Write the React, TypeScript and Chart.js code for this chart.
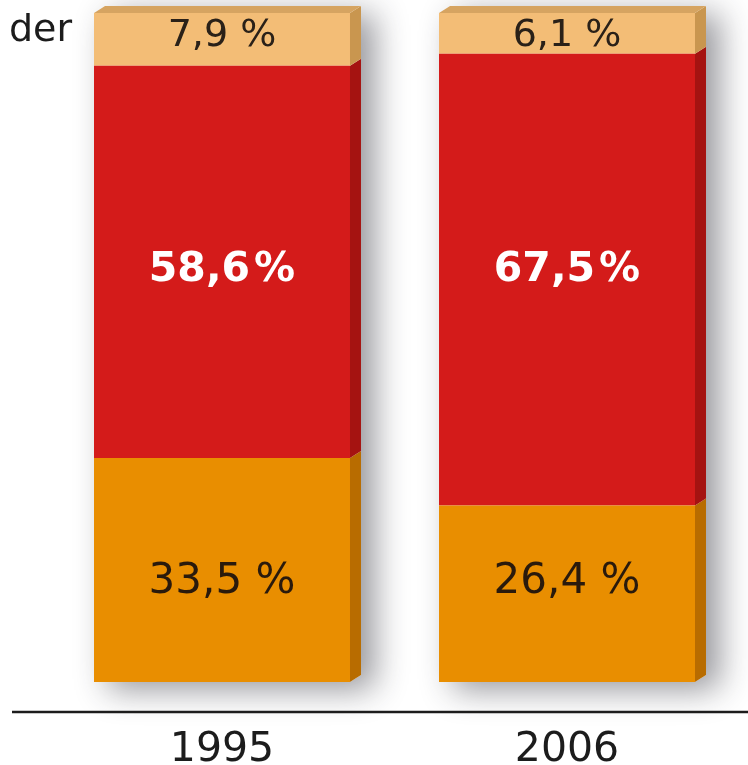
import React, { useEffect, useRef } from "react";
import { Chart, registerables } from "chart.js";

Chart.register(...registerables);

const categories = ["1995", "2006"];
const bottomShare = [33.5, 26.4];
const middleShare = [58.6, 67.5];
const topShare = [7.9, 6.1];
const legendFragment = "der";

const frontColors = ["#E98E00", "#D41B1A", "#F3BD76"];
const sideColors = ["#B86C00", "#A51311", "#C9964F"];
const topFaceColor = "#D6A461";
const labelColors = ["#2A1A0C", "#FFFFFF", "#2A2118"];
const labelFonts = [
  "42px 'DejaVu Sans'",
  "bold 41px 'DejaVu Sans'",
  "38px 'DejaVu Sans'",
];

const fmt = (v: number, idx: number) =>
  v.toFixed(1).replace(".", ",") + (idx === 1 ? "\u200A%" : " %");

const DX = 11;
const DY = 7;

const bars3d = {
  id: "bars3d",
  beforeDatasetsDraw(chart: any) {
    const ctx = chart.ctx;
    const n = chart.data.datasets.length;
    const first = chart.getDatasetMeta(0).data;
    const last = chart.getDatasetMeta(n - 1).data;
    first.forEach((el: any, i: number) => {
      const l = el.x - el.width / 2;
      const r = el.x + el.width / 2;
      const bottom = el.base;
      const top = last[i].y;
      ctx.save();
      ctx.shadowColor = "rgba(40,40,50,0.48)";
      ctx.shadowBlur = 32;
      ctx.shadowOffsetX = 14;
      ctx.shadowOffsetY = 8;
      ctx.fillStyle = "#ffffff";
      ctx.beginPath();
      ctx.moveTo(l, bottom);
      ctx.lineTo(l, top);
      ctx.lineTo(l + DX, top - DY);
      ctx.lineTo(r + DX, top - DY);
      ctx.lineTo(r + DX, bottom - DY);
      ctx.lineTo(r, bottom);
      ctx.closePath();
      ctx.fill();
      ctx.restore();
    });
  },
  afterDatasetsDraw(chart: any) {
    const ctx = chart.ctx;
    const n = chart.data.datasets.length;
    for (let d = 0; d < n; d++) {
      const meta = chart.getDatasetMeta(d);
      meta.data.forEach((el: any) => {
        const l = el.x - el.width / 2;
        const r = el.x + el.width / 2;
        const yTop = Math.min(el.y, el.base);
        const yBot = Math.max(el.y, el.base);
        ctx.save();
        ctx.fillStyle = sideColors[d];
        ctx.beginPath();
        ctx.moveTo(r, yTop);
        ctx.lineTo(r + DX, yTop - DY);
        ctx.lineTo(r + DX, yBot - DY);
        ctx.lineTo(r, yBot);
        ctx.closePath();
        ctx.fill();
        if (d === n - 1) {
          ctx.fillStyle = topFaceColor;
          ctx.beginPath();
          ctx.moveTo(l, yTop);
          ctx.lineTo(l + DX, yTop - DY);
          ctx.lineTo(r + DX, yTop - DY);
          ctx.lineTo(r, yTop);
          ctx.closePath();
          ctx.fill();
        }
        ctx.restore();
      });
    }
    // value labels, aligned in one row per segment
    for (let d = 0; d < n; d++) {
      const meta = chart.getDatasetMeta(d);
      const values = chart.data.datasets[d].data as number[];
      const centers = meta.data.map((el: any) => (el.y + el.base) / 2);
      const rowY = centers.reduce((a: number, b: number) => a + b, 0) / centers.length;
      meta.data.forEach((el: any, i: number) => {
        ctx.save();
        ctx.font = labelFonts[d];
        ctx.fillStyle = labelColors[d];
        ctx.textAlign = "center";
        ctx.textBaseline = "middle";
        ctx.fillText(fmt(values[i], d), el.x, rowY);
        ctx.restore();
      });
    }
  },
  afterDraw(chart: any) {
    const ctx = chart.ctx;
    const area = chart.chartArea;
    ctx.save();
    ctx.strokeStyle = "#1c1c1c";
    ctx.lineWidth = 2.5;
    ctx.beginPath();
    ctx.moveTo(12, area.bottom + 30);
    ctx.lineTo(chart.width, area.bottom + 30);
    ctx.stroke();
    ctx.font = "38px 'DejaVu Sans'";
    ctx.fillStyle = "#1c1c1c";
    ctx.textAlign = "right";
    ctx.textBaseline = "alphabetic";
    ctx.fillText(legendFragment, 72, 41);
    ctx.restore();
  },
};

export default function App() {
  const ref = useRef<HTMLCanvasElement | null>(null);
  useEffect(() => {
    if (!ref.current) return;
    const chart = new Chart(ref.current, {
      type: "bar",
      data: {
        labels: categories,
        datasets: [
          { label: "bottom", data: bottomShare, backgroundColor: frontColors[0] },
          { label: "middle", data: middleShare, backgroundColor: frontColors[1] },
          { label: "top", data: topShare, backgroundColor: frontColors[2] },
        ],
      },
      options: {
        animation: false,
        responsive: true,
        maintainAspectRatio: false,
        layout: { padding: { left: 49.5, right: 8.5, top: 13, bottom: 0 } },
        datasets: {
          bar: {
            categoryPercentage: 1,
            barPercentage: 0.742,
            borderWidth: 0,
          },
        },
        plugins: {
          legend: { display: false },
          tooltip: { enabled: false },
        },
        scales: {
          x: {
            stacked: true,
            grid: { display: false, drawTicks: false },
            border: { display: false },
            ticks: {
              maxRotation: 0,
              padding: 44,
              color: "#1c1c1c",
              font: { family: "'DejaVu Sans'", size: 41 },
            },
            afterFit: (scale: any) => {
              scale.height = 83;
            },
          },
          y: {
            stacked: true,
            display: false,
            min: 0,
            max: 100,
          },
        },
      },
      plugins: [bars3d],
    });
    return () => chart.destroy();
  }, []);
  return (
    <div style={{ position: "fixed", left: 0, top: 0, width: 748, height: 765, background: "#ffffff" }}>
      <canvas ref={ref} />
    </div>
  );
}
